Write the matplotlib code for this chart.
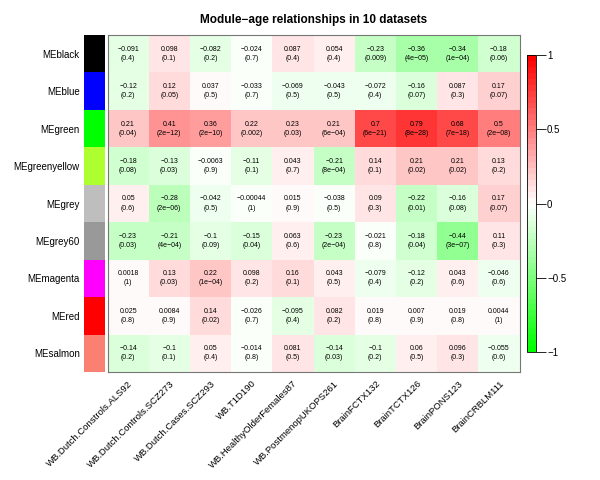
import matplotlib
matplotlib.use('Agg')
import matplotlib.pyplot as plt
from matplotlib.colors import LinearSegmentedColormap
import numpy as np

plt.rcParams['font.family'] = ['Liberation Sans', 'DejaVu Sans']

modules = ['MEblack', 'MEblue', 'MEgreen', 'MEgreenyellow', 'MEgrey',
           'MEgrey60', 'MEmagenta', 'MEred', 'MEsalmon']
module_colors = ['#000000', '#0000ff', '#00ff00', '#adff2f', '#bebebe',
                 '#999999', '#ff00ff', '#ff0000', '#fa8072']
datasets = ['WB.Dutch.Constrols.ALS92', 'WB.Dutch.Controls.SCZ273',
            'WB.Dutch.Cases.SCZ293', 'WB.T1D190', 'WB.HealthyOlderFemales87',
            'WB.PostmenopUKOPS261', 'BrainFCTX132', 'BrainTCTX126',
            'BrainPONS123', 'BrainCRBLM111']

cor = [
    [-0.091, 0.098, -0.082, -0.024, 0.087, 0.054, -0.23, -0.36, -0.34, -0.18],
    [-0.12, 0.12, 0.037, -0.033, -0.069, -0.043, -0.072, -0.16, 0.087, 0.17],
    [0.21, 0.41, 0.36, 0.22, 0.23, 0.21, 0.7, 0.79, 0.68, 0.5],
    [-0.18, -0.13, -0.0063, -0.11, 0.043, -0.21, 0.14, 0.21, 0.21, 0.13],
    [0.05, -0.28, -0.042, -0.00044, 0.015, -0.038, 0.09, -0.22, -0.16, 0.17],
    [-0.23, -0.21, -0.1, -0.15, 0.063, -0.23, -0.021, -0.18, -0.44, 0.11],
    [0.0018, 0.13, 0.22, 0.098, 0.16, 0.043, -0.079, -0.12, 0.043, -0.046],
    [0.025, 0.0084, 0.14, -0.026, -0.095, 0.082, 0.019, 0.007, 0.019, 0.0044],
    [-0.14, -0.1, 0.05, -0.014, 0.081, -0.14, -0.1, 0.06, 0.096, -0.055],
]
pvals = [
    ['0.4', '0.1', '0.2', '0.7', '0.4', '0.4', '0.009', '4e-05', '1e-04', '0.06'],
    ['0.2', '0.05', '0.5', '0.7', '0.5', '0.5', '0.4', '0.07', '0.3', '0.07'],
    ['0.04', '2e-12', '2e-10', '0.002', '0.03', '6e-04', '6e-21', '8e-28', '7e-18', '2e-08'],
    ['0.08', '0.03', '0.9', '0.1', '0.7', '8e-04', '0.1', '0.02', '0.02', '0.2'],
    ['0.6', '2e-06', '0.5', '1', '0.9', '0.5', '0.3', '0.01', '0.08', '0.07'],
    ['0.03', '4e-04', '0.09', '0.04', '0.6', '2e-04', '0.8', '0.04', '3e-07', '0.3'],
    ['1', '0.03', '1e-04', '0.2', '0.1', '0.5', '0.4', '0.2', '0.6', '0.6'],
    ['0.8', '0.9', '0.02', '0.7', '0.4', '0.2', '0.8', '0.9', '0.8', '1'],
    ['0.2', '0.1', '0.4', '0.8', '0.5', '0.03', '0.2', '0.5', '0.3', '0.6'],
]

cmap = LinearSegmentedColormap.from_list('gwr', ['#00ff00', '#ffffff', '#ff0000'], N=50)
data = np.array(cor)
nr, nc = data.shape

fig = plt.figure(figsize=(6, 4.8), dpi=100)

# module colour strip
ax_s = fig.add_axes([84/600, 1 - 372/480, 21/600, 337/480])
for i, c in enumerate(module_colors):
    ax_s.add_patch(plt.Rectangle((0, i), 1, 1, color=c, lw=0))
ax_s.set_xlim(0, 1)
ax_s.set_ylim(nr, 0)
ax_s.set_xticks([])
ax_s.set_yticks(np.arange(nr) + 0.5)
ax_s.set_yticklabels(modules, fontsize=7)
ax_s.tick_params(axis='y', length=0, pad=3)
for s in ax_s.spines.values():
    s.set_visible(False)

# heatmap
ax = fig.add_axes([107.5/600, 1 - 372/480, 412/600, 337/480])
mesh = ax.pcolormesh(data, cmap=cmap, vmin=-1, vmax=1)
ax.set_xlim(0, nc)
ax.set_ylim(nr, 0)
for i in range(nr):
    for j in range(nc):
        v = ('%g' % cor[i][j]).replace('-', '\u2212')
        p = pvals[i][j].replace('-', '\u2212')
        ax.text(j + 0.5, i + 0.5, v + '\n(' + p + ')', ha='center', va='center',
                fontsize=5, linespacing=1.4)
ax.set_yticks([])
ax.set_xticks(np.arange(nc) + 0.5)
ax.set_xticklabels(datasets, rotation=45, ha='right', rotation_mode='anchor', fontsize=6.8)
ax.tick_params(axis='x', length=0, pad=5)
for s in ax.spines.values():
    s.set_color('#777777')
    s.set_linewidth(0.8)
ax.set_title('Module\u2212age relationships in 10 datasets', fontsize=8.5,
             fontweight='bold', pad=9)

# colour bar
ax_c = fig.add_axes([527/600, 1 - 352/480, 9/600, 297/480])
cb = fig.colorbar(mesh, cax=ax_c, ticks=[-1, -0.5, 0, 0.5, 1])
cb.ax.set_yticklabels(['\u22121', '\u22120.5', '0', '0.5', '1'])
cb.ax.tick_params(labelsize=7, length=7, width=0.6, pad=1)
cb.outline.set_linewidth(0.6)

fig.savefig('out.png', dpi=100)
